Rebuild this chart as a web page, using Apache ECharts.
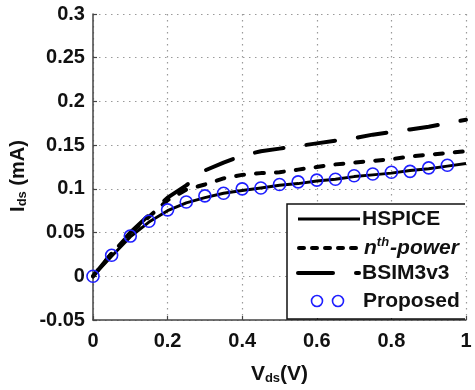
<!DOCTYPE html>
<html>
<head>
<meta charset="utf-8">
<script src="https://cdn.jsdelivr.net/npm/echarts@6/dist/echarts.min.js"></script>
<style>html,body{margin:0;padding:0;background:#fff}#c{width:475px;height:390px}</style>
</head>
<body>
<div id="c"></div>
<script>
const vds = [0, 0.05, 0.1, 0.15, 0.2, 0.25, 0.3, 0.35, 0.4, 0.45, 0.5, 0.55, 0.6, 0.65, 0.7, 0.75, 0.8, 0.85, 0.9, 0.95, 1.0];
const hspice = [0, 0.023, 0.045, 0.062, 0.075, 0.084, 0.090, 0.095, 0.098, 0.101, 0.104, 0.106, 0.109, 0.111, 0.114, 0.116, 0.118, 0.121, 0.123, 0.126, 0.129];
const nthPower = [0, 0.026, 0.049, 0.068, 0.087, 0.099, 0.105, 0.112, 0.116, 0.118, 0.119, 0.122, 0.125, 0.128, 0.130, 0.132, 0.134, 0.137, 0.139, 0.141, 0.143];
const bsim3v3 = [0, 0.026, 0.050, 0.070, 0.090, 0.104, 0.121, 0.130, 0.138, 0.143, 0.146, 0.149, 0.152, 0.155, 0.158, 0.162, 0.165, 0.168, 0.171, 0.175, 0.179];
const proposedVds = [0, 0.05, 0.1, 0.15, 0.2, 0.25, 0.3, 0.35, 0.4, 0.45, 0.5, 0.55, 0.6, 0.65, 0.7, 0.75, 0.8, 0.85, 0.9, 0.95];
const proposed = [0, 0.024, 0.046, 0.063, 0.076, 0.085, 0.092, 0.095, 0.100, 0.101, 0.105, 0.108, 0.110, 0.111, 0.115, 0.117, 0.119, 0.120, 0.124, 0.127];
const xTickLabels = ['0', '0.2', '0.4', '0.6', '0.8', '1'];
const yTickLabels = ['-0.05', '0', '0.05', '0.1', '0.15', '0.2', '0.25', '0.3'];

const pairs = (xs, ys) => xs.map((x, i) => [x, ys[i]]);
const FONT = '"Liberation Sans", Arial, sans-serif';
const chart = echarts.init(document.getElementById('c'), null, {renderer: 'canvas'});

const gridLine = {show: true, lineStyle: {color: '#9a9a9a', width: 1.2, type: [1.5, 4.5]}};
const option = {
  backgroundColor: '#fff',
  animation: false,
  grid: {left: 91, right: 9, top: 14, bottom: 61, containLabel: false},
  xAxis: {
    type: 'value', min: 0, max: 1, interval: 0.2,
    axisLine: {show: true, onZero: false, lineStyle: {color: '#444', width: 1.5}},
    axisTick: {show: true, inside: true, length: 4, lineStyle: {color: '#444', width: 1.2}},
    splitLine: gridLine,
    axisLabel: {
      margin: 11, color: '#111', fontFamily: FONT, fontWeight: 'bold', fontSize: 20,
      formatter: v => xTickLabels[Math.round(v / 0.2)]
    },
    name: '{v|V}{s|ds}{v|(V)}',
    nameLocation: 'middle', nameGap: 44,
    nameTextStyle: {
      rich: {
        v: {fontFamily: FONT, fontWeight: 'bold', fontSize: 21, color: '#111'},
        s: {fontFamily: FONT, fontWeight: 'bold', fontSize: 13, color: '#111', padding: [8, 0, 0, 0]}
      }
    }
  },
  yAxis: {
    type: 'value', min: -0.05, max: 0.3, interval: 0.05,
    axisLine: {show: true, onZero: false, lineStyle: {color: '#444', width: 1.5}},
    axisTick: {show: true, inside: true, length: 4, lineStyle: {color: '#444', width: 1.2}},
    splitLine: gridLine,
    axisLabel: {
      margin: 8, color: '#111', fontFamily: FONT, fontWeight: 'bold', fontSize: 20,
      formatter: v => yTickLabels[Math.round((v + 0.05) / 0.05)]
    },
    name: '{v|I}{s|ds}{v| (mA)}',
    nameLocation: 'middle', nameGap: 62, nameRotate: 90,
    nameTextStyle: {
      padding: [0, 0, 0, -18],
      rich: {
        v: {fontFamily: FONT, fontWeight: 'bold', fontSize: 20, color: '#111'},
        s: {fontFamily: FONT, fontWeight: 'bold', fontSize: 13, color: '#111', padding: [8, 0, 0, 0]}
      }
    }
  },
  series: [
    {name: 'HSPICE', type: 'line', data: pairs(vds, hspice), showSymbol: false, symbol: 'none',
      lineStyle: {color: '#000', width: 3}, z: 3},
    {name: 'nth-power', type: 'line', data: pairs(vds, nthPower), showSymbol: false, symbol: 'none',
      lineStyle: {color: '#000', width: 4, type: [8, 12], cap: 'round'}, z: 3},
    {name: 'BSIM3v3', type: 'line', data: pairs(vds, bsim3v3), showSymbol: false, symbol: 'none',
      lineStyle: {color: '#000', width: 4, type: [29, 23], cap: 'round'}, z: 3},
    {name: 'Proposed', type: 'line', data: pairs(proposedVds, proposed), symbol: 'circle', symbolSize: 12,
      showSymbol: true, lineStyle: {opacity: 0},
      itemStyle: {color: 'rgba(0,0,0,0)', borderColor: '#1f1fff', borderWidth: 1.6}, z: 4}
  ],
  graphic: [
    {type: 'polyline', z: 10, shape: {points: [[465, 204], [287, 204], [287, 319], [465, 319]]},
      style: {stroke: '#111', lineWidth: 1.5, fill: 'none'}},
    {type: 'rect', z: 9, shape: {x: 288, y: 205, width: 177, height: 113}, style: {fill: '#fff'}},
    {type: 'line', z: 10, shape: {x1: 298, y1: 219, x2: 360, y2: 219}, style: {stroke: '#000', lineWidth: 3}},
    {type: 'line', z: 10, shape: {x1: 299, y1: 248, x2: 358, y2: 248}, style: {stroke: '#000', lineWidth: 4, lineDash: [5, 8], lineCap: 'round'}},
    {type: 'line', z: 10, shape: {x1: 298, y1: 273, x2: 333, y2: 273}, style: {stroke: '#000', lineWidth: 4, lineCap: 'round'}},
    {type: 'line', z: 10, shape: {x1: 356, y1: 273, x2: 359, y2: 273}, style: {stroke: '#000', lineWidth: 4, lineCap: 'round'}},
    {type: 'circle', z: 10, shape: {cx: 317, cy: 301, r: 5.5}, style: {stroke: '#1f1fff', lineWidth: 1.6, fill: 'none'}},
    {type: 'circle', z: 10, shape: {cx: 338, cy: 301, r: 5.5}, style: {stroke: '#1f1fff', lineWidth: 1.6, fill: 'none'}},
    {type: 'text', z: 10, x: 362, y: 219, style: {text: 'HSPICE', font: 'bold 21px ' + FONT, fill: '#111', verticalAlign: 'middle'}},
    {type: 'text', z: 10, x: 364, y: 248, style: {
      text: '{n|n}{t|th}{n|-power}', verticalAlign: 'middle', fill: '#111',
      rich: {
        n: {font: 'italic bold 21px ' + FONT, fill: '#111'},
        t: {font: 'italic bold 13px ' + FONT, fill: '#111', padding: [0, 1, 12, 0]}
      }}},
    {type: 'text', z: 10, x: 362, y: 273, style: {text: 'BSIM3v3', font: 'bold 21px ' + FONT, fill: '#111', verticalAlign: 'middle'}},
    {type: 'text', z: 10, x: 363, y: 301, style: {text: 'Proposed', font: 'bold 21px ' + FONT, fill: '#111', verticalAlign: 'middle'}}
  ]
};
chart.setOption(option);
</script>
</body>
</html>
